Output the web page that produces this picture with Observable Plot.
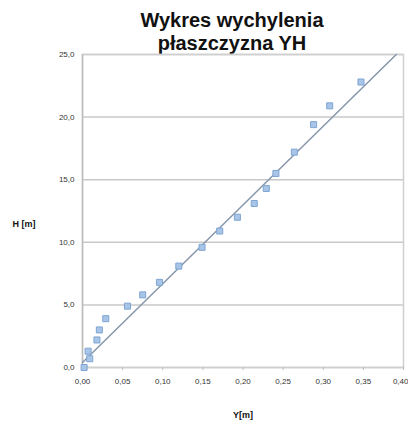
<!DOCTYPE html>
<html><head><meta charset="utf-8">
<script src="https://cdn.jsdelivr.net/npm/d3@7"></script>
<script src="https://cdn.jsdelivr.net/npm/@observablehq/plot@0.6"></script>
<style>
body{margin:0;background:#fff;font-family:"Liberation Sans",Arial,sans-serif;}
#title{width:408px;height:48px;box-sizing:border-box;padding-left:56px;text-align:center;font-weight:bold;font-size:20px;line-height:23px;color:#111;padding-top:9px;}
</style></head><body>
<div id="title">Wykres wychylenia<br>płaszczyzna YH</div>
<div id="chart"></div>
<script>
const yVals = [0.002,0.009,0.007,0.018,0.021,0.029,0.056,0.075,0.096,0.120,0.149,0.171,0.193,0.214,0.229,0.241,0.264,0.288,0.308,0.347];
const hVals = [0.0,0.7,1.3,2.2,3.0,3.9,4.9,5.8,6.8,8.1,9.6,10.9,12.0,13.1,14.3,15.5,17.2,19.4,20.9,22.8];
const trendY = [0.0,0.391];
const trendH = [0.4,25.0];
const xTicks = [0,0.05,0.1,0.15,0.2,0.25,0.3,0.35,0.4];
const yTicks = [0,5,10,15,20,25];
const fmt = (d,n)=>d.toFixed(n).replace(".",",");

const pts = yVals.map((y,i)=>({y, h:hVals[i]}));
const trend = trendY.map((y,i)=>({y, h:trendH[i]}));
const lastTick = xTicks[xTicks.length-1];

const chart = Plot.plot({
  width:408, height:375,
  marginTop:6, marginBottom:56, marginLeft:82, marginRight:5,
  style:{fontFamily:"Liberation Sans, Arial, sans-serif", fontSize:"8px", color:"#333"},
  x:{domain:[0,0.4], label:null},
  y:{domain:[0,25], label:null},
  marks:[
    Plot.gridY(yTicks,{stroke:"#c8c8c8", strokeOpacity:1, strokeWidth:1.5}),
    Plot.frame({stroke:"#cfcfcf", strokeWidth:1.5}),
    Plot.ruleX([0],{stroke:"#bdbdbd", strokeWidth:1.5}),
    Plot.axisX(xTicks,{tickFormat:d=>fmt(d,2), tickSize:3, tickPadding:8, stroke:"#bbb", label:null, text:null}),
    Plot.axisX(xTicks.slice(0,-1),{tickFormat:d=>fmt(d,2), tickSize:0, tickPadding:11, label:null}),
    Plot.axisX([lastTick],{tickFormat:d=>fmt(d,2), tickSize:0, tickPadding:11, textAnchor:"end", dx:5, label:null}),
    Plot.axisY(yTicks,{tickFormat:d=>fmt(d,1), tickSize:0, tickPadding:8, label:null}),
    Plot.line(trend,{x:"y", y:"h", stroke:"#8796ab", strokeWidth:1.5}),
    Plot.dot(pts,{x:"y", y:"h", symbol:"square", r:3.4, fill:"#a8c4e6", stroke:"#7ea5d3", strokeWidth:1}),
    Plot.text(["H [m]"],{frameAnchor:"left", dx:-70, dy:13, fontWeight:"bold", fontSize:9, fill:"#111", textAnchor:"start"}),
    Plot.text(["Y[m]"],{frameAnchor:"bottom", dy:50, fontWeight:"bold", fontSize:9, fill:"#111"})
  ]
});
document.getElementById("chart").appendChild(chart);
</script>
</body></html>
